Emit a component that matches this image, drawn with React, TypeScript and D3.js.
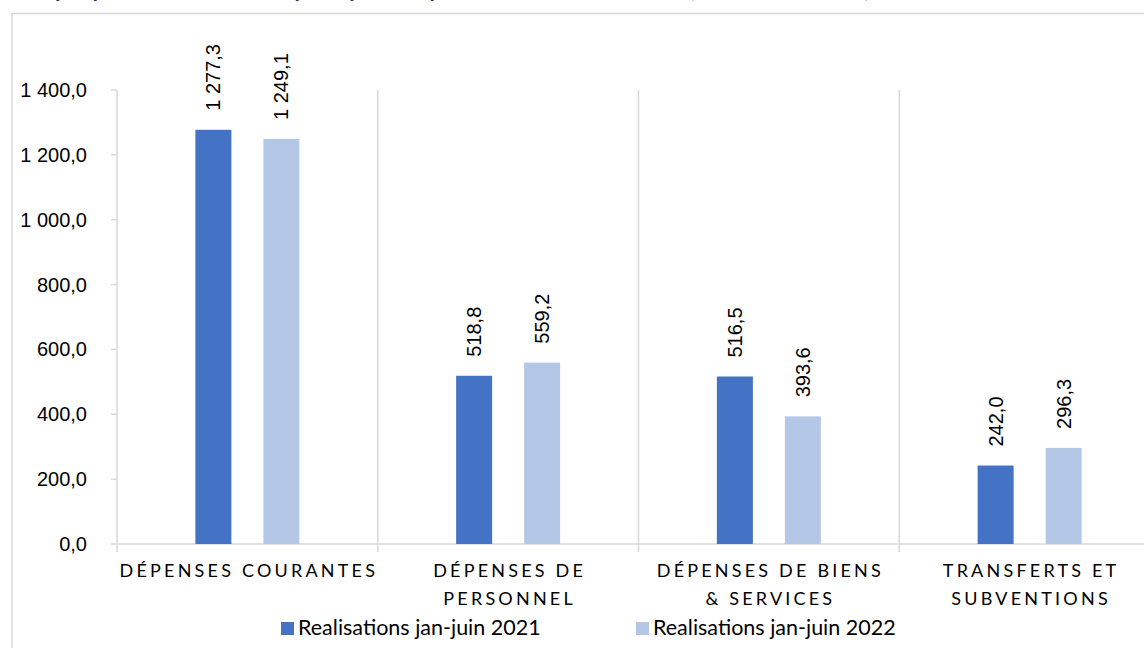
import React from "react";
import * as d3 from "d3";

const categories = [
  ["DÉPENSES COURANTES"],
  ["DÉPENSES DE", "PERSONNEL"],
  ["DÉPENSES DE BIENS", "& SERVICES"],
  ["TRANSFERTS ET", "SUBVENTIONS"],
];
const seriesNames = ["Realisations jan-juin 2021", "Realisations jan-juin 2022"];
const values2021 = [1277.3, 518.8, 516.5, 242.0];
const values2022 = [1249.1, 559.2, 393.6, 296.3];
const yTicks = [0, 200, 400, 600, 800, 1000, 1200, 1400];
const colors = ["#4472C4", "#B4C7E7"];
const title = "Graphique 2 : Évolution des principales dépenses courantes de l'État (en milliards FCFA)";

const fmt = (v: number) => {
  const s = v.toFixed(1).replace(".", ",");
  const [i, d] = s.split(",");
  return i.replace(/\B(?=(\d{3})+(?!\d))/g, " ") + "," + d;
};

export default function App() {
  const W = 1144, H = 648;
  const x0 = 117, x1 = 1160, yTop = 90, yBot = 544;
  const y = d3.scaleLinear().domain([0, 1400]).range([yBot, yTop]);
  const x = d3.scaleBand().domain(categories.map((_, i) => String(i))).range([x0, x1]).paddingInner(0).paddingOuter(0);
  const bw = 36;
  const off = 34;
  const series = [values2021, values2022];
  const numFont = "'Liberation Sans', Arial, sans-serif";
  const catFont = "Lato, 'Open Sans', sans-serif";
  const grid = "#D9D9D9";
  return (
    <svg width={W} height={H} style={{ position: "absolute", left: 0, top: 0 }}>
      <rect x={0} y={0} width={W} height={H} fill="#fff" />
      <text x={20} y={-3} fontFamily={catFont} fontWeight="bold" fontSize={22} fill="#1F3864">{title}</text>
      <rect x={12} y={13.5} width={1200} height={700} fill="none" stroke={grid} strokeWidth={1.5} />
      {categories.map((_, i) => {
        const xx = x(String(i))!;
        return <line key={"s" + i} x1={xx} x2={xx} y1={yTop} y2={yBot + 8} stroke={grid} strokeWidth={1.5} />;
      })}
      <line x1={x1} x2={x1} y1={yTop} y2={yBot + 8} stroke={grid} strokeWidth={1.5} />
      {yTicks.map((t) => (
        <g key={"t" + t}>
          <line x1={x0 - 6} x2={x0} y1={y(t)} y2={y(t)} stroke={grid} strokeWidth={1.5} />
          <text x={87} y={y(t) + 7} textAnchor="end" fontFamily={numFont} fontSize={20} fill="#000">{fmt(t)}</text>
        </g>
      ))}
      <line x1={x0} x2={x1} y1={yBot} y2={yBot} stroke={grid} strokeWidth={1.5} />
      {series.map((vals, si) =>
        vals.map((v, i) => {
          const cx = x(String(i))! + x.bandwidth() / 2 + (si === 0 ? -off : off);
          const top = y(v);
          return (
            <g key={"b" + si + "-" + i}>
              <rect x={cx - bw / 2} y={top} width={bw} height={yBot - top} fill={colors[si]} />
              <text transform={`translate(${cx + 7},${top - 19}) rotate(-90)`} fontFamily={numFont} fontSize={20} fill="#000">{fmt(v)}</text>
            </g>
          );
        })
      )}
      {categories.map((lines, i) => {
        const cx = x(String(i))! + x.bandwidth() / 2 + 1.5;
        return (
          <text key={"c" + i} textAnchor="middle" fontFamily={catFont} fontSize={18} letterSpacing={3.2} fill="#000">
            {lines.map((l, li) => (
              <tspan key={li} x={cx} y={577 + li * 28}>{l}</tspan>
            ))}
          </text>
        );
      })}
      {seriesNames.map((n, i) => {
        const lx = i === 0 ? 281 : 636;
        return (
          <g key={"l" + i}>
            <rect x={lx} y={622} width={13} height={13} fill={colors[i]} />
            <text x={lx + 17} y={635} fontFamily={catFont} fontSize={21.5} fill="#000">{n}</text>
          </g>
        );
      })}
    </svg>
  );
}
